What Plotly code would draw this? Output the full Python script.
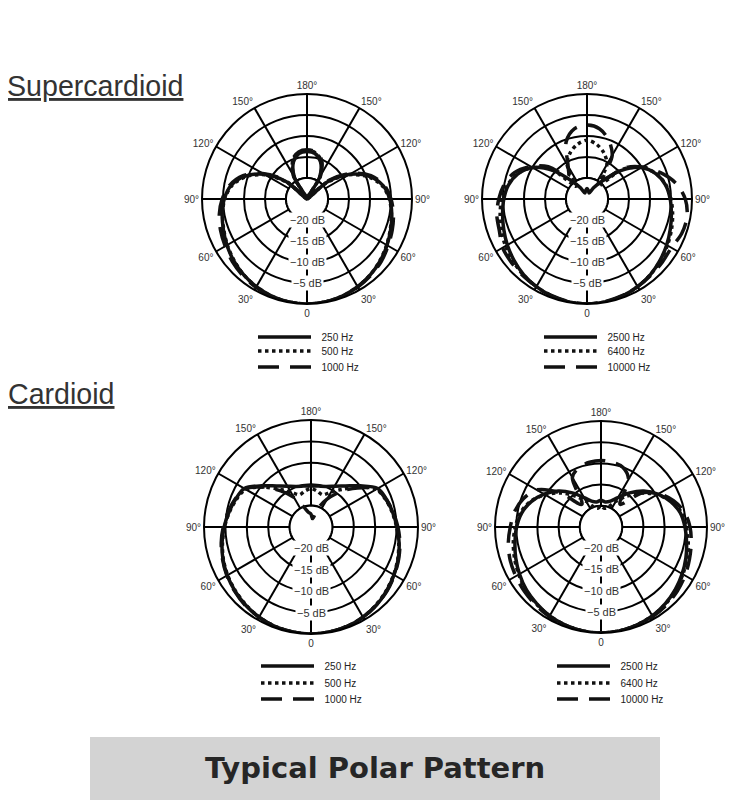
import plotly.graph_objects as go

W, H = 750, 800
OX, OY = 8, 8  # page offset of the figure inside the browser body

# ---------------- data ----------------
THETA = list(range(0, 361, 10))  # measurement angles (deg), 0 = on-axis

# Supercardioid, low frequencies (dB)
SC_250 = [0, -0.1, -0.4, -0.9, -1.5, -2.2, -3.0, -3.8, -4.5, -5.3, -6.6, -9.2, -13.2, -18.6, -25, -19.0, -15.6, -14.0, -13.7,
          -14.0, -15.6, -19.0, -25, -18.6, -13.2, -9.2, -6.6, -5.3, -4.5, -3.8, -3.0, -2.2, -1.5, -0.9, -0.4, -0.1, 0]
SC_500 = [0, -0.1, -0.4, -0.9, -1.5, -2.3, -3.1, -3.9, -4.6, -5.4, -6.8, -9.5, -13.5, -19.0, -25, -18.5, -15.2, -13.8, -13.5,
          -13.8, -15.2, -18.5, -25, -19.0, -13.5, -9.5, -6.8, -5.4, -4.6, -3.9, -3.1, -2.3, -1.5, -0.9, -0.4, -0.1, 0]
SC_1000 = [0, -0.1, -0.3, -0.8, -1.3, -1.9, -2.7, -3.4, -4.1, -5.0, -6.3, -8.8, -12.8, -18.0, -24, -18.5, -15.0, -13.6, -13.3,
           -13.6, -15.0, -18.5, -24, -18.0, -12.8, -8.8, -6.3, -4.8, -3.8, -3.1, -2.5, -1.8, -1.2, -0.7, -0.3, -0.1, 0]

# Supercardioid, high frequencies (dB)
ST_2500 = [0, -0.1, -0.4, -0.9, -1.5, -2.3, -3.1, -3.9, -4.6, -5.2, -6.0, -7.5, -10.0, -14.5, -19.5, -22.0, -23.5, -23.0, -22.5,
           -23.0, -23.5, -22.0, -19.5, -14.5, -10.0, -7.5, -6.0, -5.2, -4.6, -3.9, -3.1, -2.3, -1.5, -0.9, -0.4, -0.1, 0]
ST_6400 = [0, -0.1, -0.4, -0.9, -1.5, -2.2, -2.9, -3.6, -4.3, -5.0, -5.9, -7.4, -10.0, -14.0, -21.0, -15.5, -13.3, -11.8, -11.0,
           -11.8, -13.3, -15.5, -21.0, -14.0, -10.0, -7.4, -5.8, -4.7, -4.0, -3.3, -2.6, -2.0, -1.4, -0.9, -0.4, -0.1, 0]
ST_10000 = [0, -0.2, -0.5, -0.9, -1.3, -1.6, -1.8, -1.0, -0.8, -1.6, -3.5, -6.5, -9.8, -13.5, -19.0, -13.0, -10.0, -8.0, -7.4,
            -8.0, -10.5, -16.0, -18.0, -13.0, -9.5, -6.6, -5.0, -4.0, -3.2, -2.8, -1.8, -1.5, -1.2, -0.9, -0.5, -0.2, 0]

# Cardioid, low frequencies (dB)
C_250 = [0, -0.1, -0.3, -0.7, -1.2, -1.9, -2.6, -3.3, -4.1, -4.9, -5.6, -6.2, -7.0, -10.0, -12.5, -14.0, -14.9, -15.3, -15.4,
         -15.3, -14.9, -14.0, -12.5, -10.0, -7.0, -6.2, -5.5, -4.7, -3.9, -3.1, -2.4, -1.8, -1.2, -0.7, -0.3, -0.1, 0]
C_500 = [0, -0.1, -0.3, -0.7, -1.3, -2.0, -2.7, -3.4, -4.2, -5.0, -5.7, -6.4, -7.4, -10.5, -13.5, -15.5, -17.0, -16.5, -16.0,
         -16.5, -17.0, -15.5, -13.5, -10.5, -7.4, -6.4, -5.6, -4.8, -4.0, -3.2, -2.5, -1.9, -1.3, -0.7, -0.3, -0.1, 0]
C_1000 = [0, -0.1, -0.3, -0.7, -1.2, -1.8, -2.5, -3.2, -3.9, -4.7, -5.5, -6.3, -7.3, -10.8, -14.2, -17.5, -20.5, -23.0, -22.0,
          -21.5, -20.0, -17.0, -14.0, -10.5, -7.2, -6.1, -5.3, -4.5, -3.7, -3.0, -2.3, -1.7, -1.1, -0.7, -0.3, -0.1, 0]

# Cardioid, high frequencies (dB)
CH_2500 = [0, -0.1, -0.4, -0.8, -1.4, -2.1, -2.9, -3.7, -4.5, -5.2, -6.0, -7.5, -9.5, -11.8, -14.5, -17.0, -18.5, -19.0, -18.7,
           -19.0, -18.5, -17.0, -14.5, -11.8, -9.5, -7.5, -6.0, -5.1, -4.4, -3.6, -2.8, -2.0, -1.4, -0.8, -0.4, -0.1, 0]
CH_6400 = [0, -0.1, -0.4, -0.8, -1.3, -2.0, -2.7, -3.4, -4.1, -4.9, -5.7, -7.3, -9.8, -12.5, -15.5, -18.0, -20.0, -20.5, -20.0,
           -20.5, -20.0, -18.0, -15.5, -12.5, -9.8, -7.3, -5.7, -4.8, -4.0, -3.3, -2.6, -1.9, -1.3, -0.8, -0.4, -0.1, 0]
CH_10000 = [0, -0.1, -0.3, -0.6, -1.0, -1.5, -2.1, -2.8, -3.4, -4.0, -5.0, -6.8, -9.3, -12.5, -18.0, -12.0, -10.0, -9.5, -9.3,
            -9.5, -10.0, -11.5, -18.0, -12.5, -7.5, -5.5, -4.3, -3.6, -2.8, -2.2, -1.8, -1.4, -1.0, -0.6, -0.3, -0.1, 0]

LOW_NAMES = ["250 Hz", "500 Hz", "1000 Hz"]
HIGH_NAMES = ["2500 Hz", "6400 Hz", "10000 Hz"]

ANG_TICKVALS = list(range(0, 360, 30))
ANG_TICKTEXT = ["0", "30°", "60°", "90°", "120°", "150°", "180°", "150°", "120°", "90°", "60°", "30°"]
RAD_RANGE = [-25, 0]
RAD_RINGS = [-20, -15, -10, -5]
RAD_LABELS = ["−20 dB", "−15 dB", "−10 dB", "−5 dB"]
INNER_RING = -20
RING_THETA = list(range(0, 361, 5))

# ---------------- layout geometry (page pixels of the reference) ----------------
PANELS = [
    # (center x, center y, radius, series, names, legend line x, legend row y's)
    (307, 199, 105, [SC_250, SC_500, SC_1000], LOW_NAMES, 259, [337, 351, 367]),
    (587, 199, 105, [ST_2500, ST_6400, ST_10000], HIGH_NAMES, 545, [337, 351, 367]),
    (311, 527, 107, [C_250, C_500, C_1000], LOW_NAMES, 262, [666, 683, 699]),
    (601, 527, 106, [CH_2500, CH_6400, CH_10000], HIGH_NAMES, 558, [666, 683, 699]),
]

DASHES = ["solid", "dot", "21px,11px"]
FONT = "Liberation Sans, Arial, sans-serif"
NAME_PAD = "\u00a0\u00a0"


def px(x):
    return (x - OX) / W


def py(y):
    return 1 - (y - OY) / H


fig = go.Figure()
layout_extra = {}
annotations = []
leg_n = 0

for i, (cx, cy, R, series, names, lx, lys) in enumerate(PANELS):
    pid = "polar" if i == 0 else f"polar{i+1}"
    # inner mask (covers spokes inside the -20 dB ring)
    fig.add_trace(go.Scatterpolar(
        r=[INNER_RING] * len(RING_THETA), theta=RING_THETA, mode="lines",
        fill="toself", fillcolor="white", line=dict(color="black", width=2),
        subplot=pid, showlegend=False, hoverinfo="skip"))
    for vals, name, dash, ly in zip(series, names, DASHES, lys):
        leg_n += 1
        leg = "legend" if leg_n == 1 else f"legend{leg_n}"
        fig.add_trace(go.Scatterpolar(
            r=vals, theta=THETA, mode="lines", name=NAME_PAD + name,
            line=dict(color="#111111", width=3.5, dash=dash, shape="spline", smoothing=0.9),
            subplot=pid, legend=leg))
        layout_extra[leg] = dict(
            x=px(lx - 6), y=py(ly), xanchor="left", yanchor="middle",
            bgcolor="rgba(0,0,0,0)", font=dict(family=FONT, size=10, color="#222222"),
            itemwidth=53,
        )
    layout_extra[pid] = dict(
        domain=dict(x=[px(cx - R), px(cx + R)], y=[py(cy + R), py(cy - R)]),
        bgcolor="white",
        angularaxis=dict(
            rotation=270, direction="counterclockwise",
            tickmode="array", tickvals=ANG_TICKVALS, ticktext=ANG_TICKTEXT,
            ticks="", showline=True, linecolor="black", linewidth=2,
            showgrid=True, gridcolor="black", gridwidth=2,
            tickfont=dict(family=FONT, size=10, color="#333333"),
        ),
        radialaxis=dict(
            range=RAD_RANGE, tickmode="array", tickvals=RAD_RINGS,
            showticklabels=False, ticks="", showline=False,
            showgrid=True, gridcolor="black", gridwidth=2,
        ),
    )
    for db, txt in zip(RAD_RINGS, RAD_LABELS):
        ypx = cy + (db - RAD_RANGE[0]) / (RAD_RANGE[1] - RAD_RANGE[0]) * R
        annotations.append(dict(
            x=px(cx), y=py(ypx), xref="paper", yref="paper",
            text=txt, showarrow=False, bgcolor="white", borderpad=1,
            font=dict(family=FONT, size=11, color="#333333"),
            xanchor="center", yanchor="middle"))

# section titles
annotations.append(dict(
    x=px(5), y=py(86), xref="paper", yref="paper", xanchor="left", yanchor="middle",
    text="Supercardioid", showarrow=False,
    font=dict(family=FONT, size=28.6, color="#333333", lineposition="under")))
annotations.append(dict(
    x=px(6), y=py(394), xref="paper", yref="paper", xanchor="left", yanchor="middle",
    text="Cardioid", showarrow=False,
    font=dict(family=FONT, size=28.6, color="#333333", lineposition="under")))
# banner text
annotations.append(dict(
    x=px(375), y=py(768), xref="paper", yref="paper", xanchor="center", yanchor="middle",
    text="<b>Typical Polar Pattern</b>", showarrow=False,
    font=dict(family="DejaVu Sans, sans-serif", size=29, color="#262626")))

fig.update_layout(
    width=W, height=H, margin=dict(l=0, r=0, t=0, b=0),
    paper_bgcolor="white", plot_bgcolor="white",
    showlegend=True,
    annotations=annotations,
    shapes=[dict(type="rect", xref="paper", yref="paper",
                 x0=px(90), x1=px(660), y0=py(810), y1=py(737),
                 fillcolor="#d3d3d3", line=dict(width=0), layer="below")],
    **layout_extra,
)

fig.write_html("out.html")
